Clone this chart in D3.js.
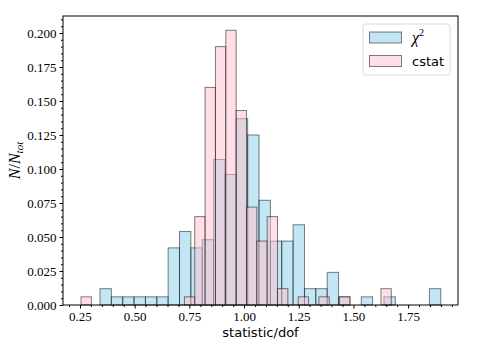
<!DOCTYPE html>
<html lang="en"><head><meta charset="UTF-8">
<title>statistic/dof histogram</title>
<script src="https://d3js.org/d3.v7.min.js"></script>
<style>
  body { margin: 0; background: #fff; }
  .tick text { font-family: "Liberation Serif", serif; font-size: 13px; fill: #000; }
</style>
</head>
<body>
<script>
// bin ranges of each histogram (30 bins each)
var chiRange = [0.3414, 1.8993];
var cstatRange = [0.2546, 1.6730];

// N/N_tot per bin
var chiVals = [0.012, 0.006, 0.006, 0.006, 0.006, 0.006, 0.042, 0.054, 0.042, 0.048,
               0.107, 0.096, 0.137, 0.125, 0.077, 0.047, 0.047, 0.059, 0.012, 0.012,
               0.024, 0.006, 0, 0.006, 0, 0.006, 0, 0, 0, 0.012];
var cstatVals = [0.006, 0, 0, 0, 0, 0, 0, 0, 0, 0,
                 0.006, 0.065, 0.160, 0.190, 0.202, 0.143, 0.072, 0.047, 0.065, 0.012,
                 0, 0.006, 0, 0.006, 0, 0.006, 0, 0, 0, 0.012];

var xTicks = [0.25, 0.50, 0.75, 1.00, 1.25, 1.50, 1.75];
var yTicks = [0.000, 0.025, 0.050, 0.075, 0.100, 0.125, 0.150, 0.175, 0.200];

var w = 482, h = 353;
var margin = {top: 16, right: 24, bottom: 48, left: 63};
var width = w - margin.left - margin.right;
var height = h - margin.top - margin.bottom;

var x = d3.scaleLinear().domain([0.1723, 1.978]).range([0, width]);
var y = d3.scaleLinear().domain([0, 0.2125]).range([height, 0]);

var svg = d3.select("body").append("svg")
    .attr("width", w)
    .attr("height", h);
var g = svg.append("g")
    .attr("transform", "translate(" + margin.left + "," + margin.top + ")");

function bins(range, vals) {
  var bw = (range[1] - range[0]) / vals.length;
  return vals.map(function(v, i) {
    return {x0: range[0] + i * bw, x1: range[0] + (i + 1) * bw, v: v};
  }).filter(function(d) { return d.v > 0; });
}

function drawHist(data, color) {
  g.append("g").selectAll("rect")
    .data(data)
    .enter()
    .append("rect")
    .attr("x", function(d) { return x(d.x0); })
    .attr("y", function(d) { return y(d.v); })
    .attr("width", function(d) { return x(d.x1) - x(d.x0); })
    .attr("height", function(d) { return y(0) - y(d.v); })
    .attr("fill", color)
    .attr("fill-opacity", 0.5)
    .attr("stroke", "#000")
    .attr("stroke-opacity", 0.5)
    .attr("stroke-width", 1);
}

drawHist(bins(chiRange, chiVals), "skyblue");
drawHist(bins(cstatRange, cstatVals), "pink");

// minor ticks
var xMinor = d3.range(0.20, 1.96, 0.05).filter(function(t) {
  return xTicks.every(function(m) { return Math.abs(m - t) > 1e-6; });
});
var yMinor = d3.range(0.005, 0.2101, 0.005).filter(function(t) {
  return yTicks.every(function(m) { return Math.abs(m - t) > 1e-6; });
});

g.append("g")
  .attr("transform", "translate(0," + height + ")")
  .call(d3.axisBottom(x).tickValues(xMinor).tickSize(2).tickFormat(""))
  .call(function(a) { a.select(".domain").remove(); });
g.append("g")
  .call(d3.axisLeft(y).tickValues(yMinor).tickSize(2).tickFormat(""))
  .call(function(a) { a.select(".domain").remove(); });

g.append("g")
  .attr("transform", "translate(0," + height + ")")
  .call(d3.axisBottom(x).tickValues(xTicks).tickSize(3.5).tickPadding(3).tickFormat(d3.format(".2f")))
  .call(function(a) { a.select(".domain").remove(); });
g.append("g")
  .call(d3.axisLeft(y).tickValues(yTicks).tickSize(3.5).tickPadding(3).tickFormat(d3.format(".3f")))
  .call(function(a) { a.select(".domain").remove(); });

// frame
g.append("rect")
  .attr("width", width)
  .attr("height", height)
  .attr("fill", "none")
  .attr("stroke", "#000")
  .attr("stroke-width", 1);

// axis labels
svg.append("text")
  .attr("x", margin.left + width / 2)
  .attr("y", 337)
  .attr("text-anchor", "middle")
  .attr("font-family", "DejaVu Sans, sans-serif")
  .attr("font-size", "13px")
  .text("statistic/dof");

var yl = svg.append("text")
  .attr("transform", "translate(20," + (margin.top + height / 2) + ") rotate(-90)")
  .attr("text-anchor", "middle")
  .attr("font-family", "Liberation Serif, serif")
  .attr("font-size", "16px");
yl.append("tspan").attr("font-style", "italic").text("N");
yl.append("tspan").text("/");
yl.append("tspan").attr("font-style", "italic").text("N");
yl.append("tspan").attr("font-style", "italic").attr("font-size", "11px").attr("dy", 3).text("tot");

// legend
var lg = svg.append("g");
lg.append("rect")
  .attr("x", 363).attr("y", 24)
  .attr("width", 87).attr("height", 51)
  .attr("rx", 2.5)
  .attr("fill", "#fff").attr("fill-opacity", 0.8)
  .attr("stroke", "#d8d8d8").attr("stroke-width", 1);

var legendItems = [{name: "chi", color: "skyblue"}, {name: "cstat", color: "pink"}];
legendItems.forEach(function(d, i) {
  var yy = 32 + i * 23.5;
  lg.append("rect")
    .attr("x", 369.5).attr("y", yy)
    .attr("width", 32).attr("height", 11)
    .attr("fill", d.color).attr("fill-opacity", 0.5)
    .attr("stroke", "#000").attr("stroke-opacity", 0.5);
  if (d.name === "chi") {
    var t = lg.append("text")
      .attr("x", 412).attr("y", yy + 11)
      .attr("font-family", "Liberation Serif, serif")
      .attr("font-size", "16px");
    t.append("tspan").attr("font-style", "italic").text("χ");
    t.append("tspan").attr("font-size", "10px").attr("dy", -7).text("2");
  } else {
    lg.append("text")
      .attr("x", 412).attr("y", yy + 10)
      .attr("font-family", "DejaVu Sans, sans-serif")
      .attr("font-size", "13px")
      .text("cstat");
  }
});
</script>
</body>
</html>
